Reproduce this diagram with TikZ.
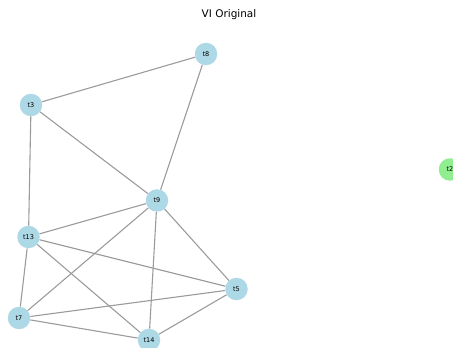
\documentclass[tikz,border=0pt]{standalone}
\usepackage{fontspec}
\setmainfont{DejaVu Sans}
\definecolor{nodeblue}{HTML}{ADD8E6}
\definecolor{nodegreen}{HTML}{90EE90}
\definecolor{edgegray}{RGB}{155,155,155}
\begin{document}
\begin{tikzpicture}[x=1pt,y=1pt,
  vertex/.style={circle,fill=nodeblue,minimum size=22.5pt,inner sep=0pt,font=\fontsize{6.5}{7.5}\selectfont},
  isolated/.style={vertex,fill=nodegreen},
  link/.style={draw=edgegray,line width=1.1pt}]
  \useasboundingbox (0,0) rectangle (453,348);
  \node[font=\fontsize{10.5}{12}\selectfont] (title) at (229,333) {VI Original};
  \node[vertex] (t8)  at (206,294) {t8};
  \node[vertex] (t3)  at (31,243) {t3};
  \node[vertex] (t9)  at (157,147.5) {t9};
  \node[vertex] (t13) at (28.5,111) {t13};
  \node[vertex] (t5)  at (236.5,59) {t5};
  \node[vertex] (t7)  at (19,30) {t7};
  \node[vertex] (t14) at (149,8) {t14};
  \node[isolated] (t2) at (450,178.5) {t2};
  \foreach \a/\b in {t3/t8,t8/t9,t3/t9,t3/t13,t9/t13,t9/t7,t9/t14,t9/t5,
                     t13/t5,t13/t7,t13/t14,t7/t5,t7/t14,t14/t5}
    \draw[link] (\a) -- (\b);
\end{tikzpicture}
\end{document}
